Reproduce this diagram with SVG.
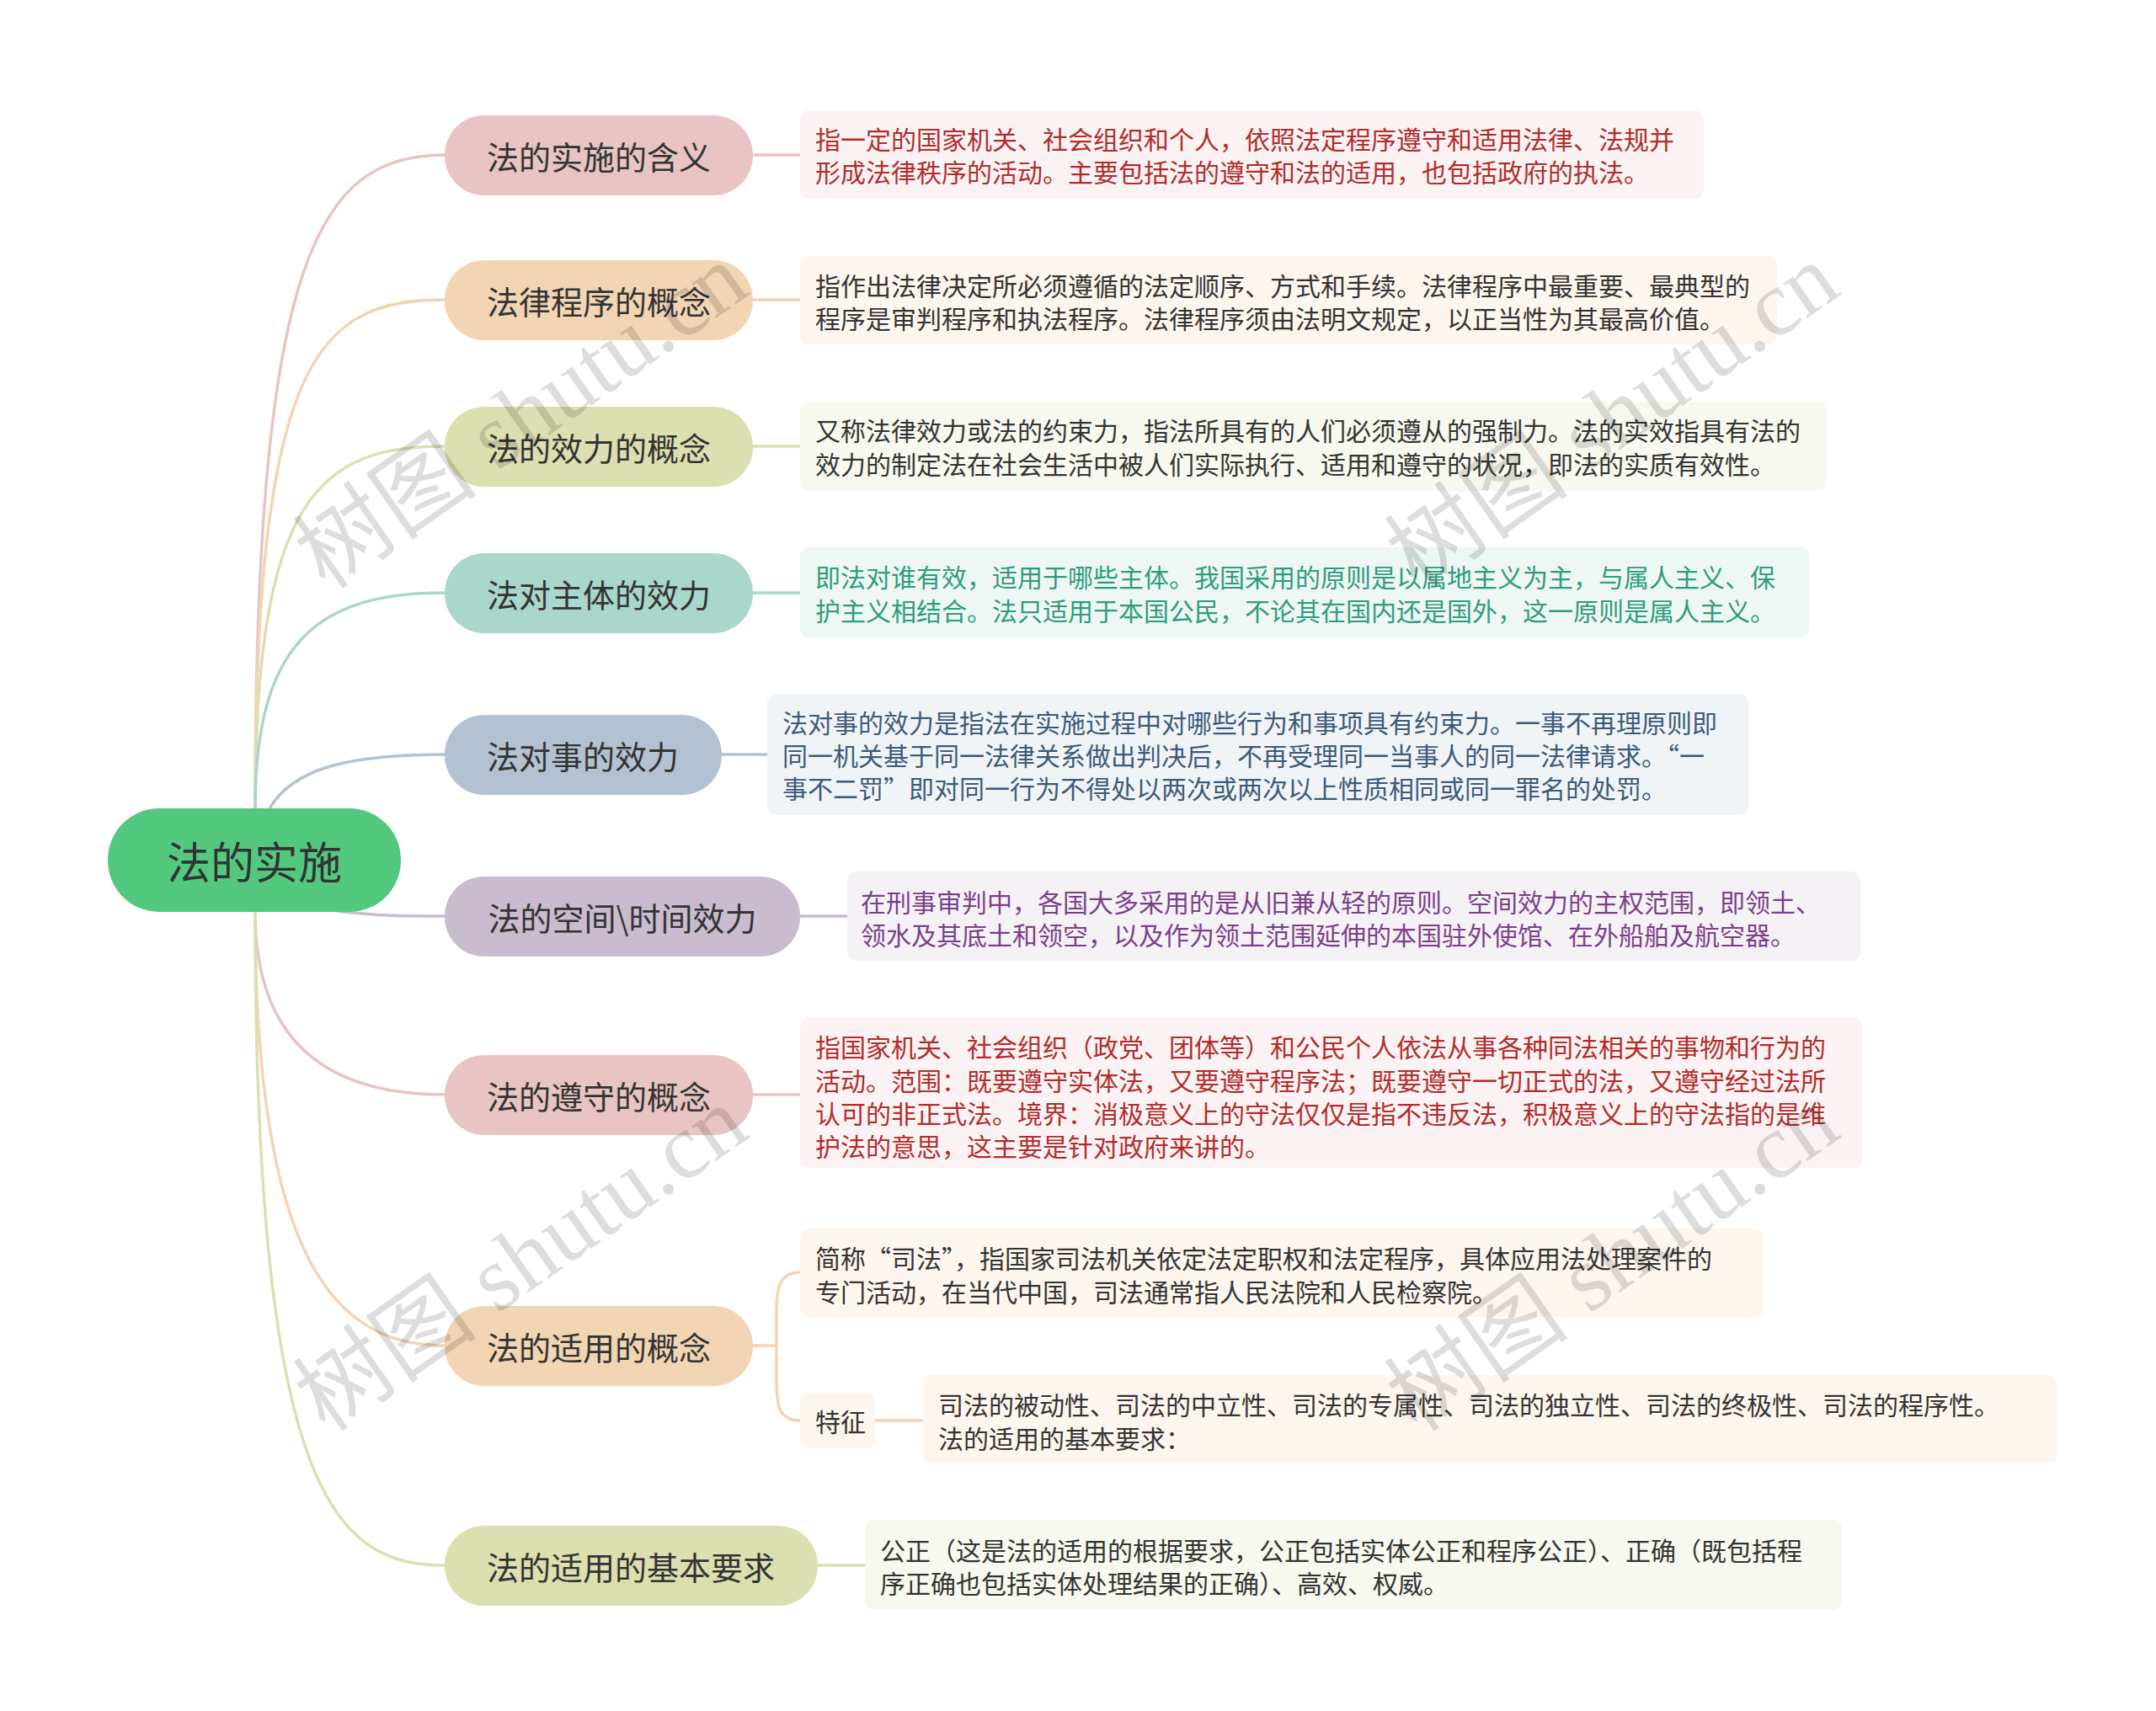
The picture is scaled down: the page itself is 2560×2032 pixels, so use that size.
<svg xmlns="http://www.w3.org/2000/svg" width="2560" height="2032" viewBox="0 0 2560 2032">
<style>
.b{font-family:"Noto Sans CJK SC","Noto Sans",sans-serif;font-size:38px;fill:#333;dominant-baseline:central}
.t{font-family:"Noto Sans CJK SC","Noto Sans",sans-serif;font-size:30px;dominant-baseline:central}
.c{fill:none;stroke-width:3.5}
.wm{font-family:"Liberation Serif","Noto Sans CJK SC",serif;font-size:110px;fill:#000;opacity:0.13}
</style>
<rect width="2560" height="2032" fill="#fff"/>
<g id="connectors">
<path class="c" stroke="#E8C4C4" d="M303 960 C303 300,380 184,528 184"/>
<path class="c" stroke="#F2D5B3" d="M303 960 C303 420,380 356,528 356"/>
<path class="c" stroke="#DCDFB0" d="M303 960 C303 590,380 530,528 530"/>
<path class="c" stroke="#A9D7CB" d="M303 960 C303 760,380 704,528 704"/>
<path class="c" stroke="#B3C2D3" d="M320 960 C350 910,420 896,528 896"/>
<path class="c" stroke="#C9BCCE" d="M400 1082 C450 1088,480 1088,528 1088"/>
<path class="c" stroke="#E8C4C4" d="M303 1083 C303 1230,380 1300,528 1300"/>
<path class="c" stroke="#F2D5B3" d="M303 1083 C303 1500,400 1598,528 1598"/>
<path class="c" stroke="#DCDFB0" d="M303 1083 C303 1780,400 1859,528 1859"/>
<path class="c" stroke="#E8C4C4" d="M894 184 H950"/>
<path class="c" stroke="#F2D5B3" d="M894 356 H950"/>
<path class="c" stroke="#DCDFB0" d="M894 530 H950"/>
<path class="c" stroke="#A9D7CB" d="M894 704 H950"/>
<path class="c" stroke="#B3C2D3" d="M857 896 H911"/>
<path class="c" stroke="#C9BCCE" d="M950 1088 H1006"/>
<path class="c" stroke="#E8C4C4" d="M894 1300 H950"/>
<path class="c" stroke="#F2D5B3" d="M894 1598 H922 M950 1511 C925 1511,922 1530,922 1560 V1640 C922 1670,925 1687,950 1687"/>
<path class="c" stroke="#F2D5B3" d="M1039 1687 H1096"/>
<path class="c" stroke="#DCDFB0" d="M971 1859 H1027"/>
</g>
<g id="root"><rect x="128" y="960" width="348" height="123" rx="61" fill="#52C97F"/><text x="302" y="1021" text-anchor="middle" class="b" style="font-size:52px">法的实施</text></g>
<g id="n1"><rect x="528" y="137" width="366" height="95" rx="47" fill="#E8C4C4"/><text x="711" y="184" text-anchor="middle" class="b">法的实施的含义</text></g>
<g id="n2"><rect x="528" y="309" width="366" height="95" rx="47" fill="#F2D5B3"/><text x="711" y="356" text-anchor="middle" class="b">法律程序的概念</text></g>
<g id="n3"><rect x="528" y="483" width="366" height="95" rx="47" fill="#DCDFB0"/><text x="711" y="530" text-anchor="middle" class="b">法的效力的概念</text></g>
<g id="n4"><rect x="528" y="657" width="366" height="95" rx="47" fill="#A9D7CB"/><text x="711" y="704" text-anchor="middle" class="b">法对主体的效力</text></g>
<g id="n5"><rect x="528" y="849" width="329" height="95" rx="47" fill="#B3C2D3"/><text x="692" y="896" text-anchor="middle" class="b">法对事的效力</text></g>
<g id="n6"><rect x="528" y="1041" width="422" height="95" rx="47" fill="#C9BCCE"/><text x="739" y="1088" text-anchor="middle" class="b">法的空间\时间效力</text></g>
<g id="n7"><rect x="528" y="1253" width="366" height="95" rx="47" fill="#E8C4C4"/><text x="711" y="1300" text-anchor="middle" class="b">法的遵守的概念</text></g>
<g id="n8"><rect x="528" y="1551" width="366" height="95" rx="47" fill="#F2D5B3"/><text x="711" y="1598" text-anchor="middle" class="b">法的适用的概念</text></g>
<g id="n9"><rect x="528" y="1812" width="443" height="95" rx="47" fill="#DCDFB0"/><text x="749" y="1859" text-anchor="middle" class="b">法的适用的基本要求</text></g>
<g id="d1"><rect x="950" y="131" width="1073" height="105" rx="10" fill="#FBF3F3"/><text class="t" fill="#B22C2C"><tspan x="968" y="164">指一定的国家机关、社会组织和个人，依照法定程序遵守和适用法律、法规并</tspan><tspan x="968" y="203">形成法律秩序的活动。主要包括法的遵守和法的适用，也包括政府的执法。</tspan></text></g>
<g id="d2"><rect x="950" y="304" width="1160" height="105" rx="10" fill="#FDF6EF"/><text class="t" fill="#333"><tspan x="968" y="338">指作出法律决定所必须遵循的法定顺序、方式和手续。法律程序中最重要、最典型的</tspan><tspan x="968" y="377">程序是审判程序和执法程序。法律程序须由法明文规定，以正当性为其最高价值。</tspan></text></g>
<g id="d3"><rect x="950" y="478" width="1219" height="105" rx="10" fill="#F7F8EF"/><text class="t" fill="#333"><tspan x="968" y="510">又称法律效力或法的约束力，指法所具有的人们必须遵从的强制力。法的实效指具有法的</tspan><tspan x="968" y="550">效力的制定法在社会生活中被人们实际执行、适用和遵守的状况，即法的实质有效性。</tspan></text></g>
<g id="d4"><rect x="950" y="650" width="1198" height="107" rx="10" fill="#EEF7F4"/><text class="t" fill="#2E9C7E"><tspan x="968" y="684">即法对谁有效，适用于哪些主体。我国采用的原则是以属地主义为主，与属人主义、保</tspan><tspan x="968" y="724">护主义相结合。法只适用于本国公民，不论其在国内还是国外，这一原则是属人主义。</tspan></text></g>
<g id="d5"><rect x="911" y="824" width="1165" height="144" rx="10" fill="#F1F4F7"/><text class="t" fill="#3C5A7A"><tspan x="929" y="857">法对事的效力是指法在实施过程中对哪些行为和事项具有约束力。一事不再理原则即</tspan><tspan x="929" y="896">同一机关基于同一法律关系做出判决后，不再受理同一当事人的同一法律请求。“一</tspan><tspan x="929" y="935">事不二罚”即对同一行为不得处以两次或两次以上性质相同或同一罪名的处罚。</tspan></text></g>
<g id="d6"><rect x="1006" y="1035" width="1203" height="106" rx="10" fill="#F5F2F6"/><text class="t" fill="#7B3F8A"><tspan x="1022" y="1070">在刑事审判中，各国大多采用的是从旧兼从轻的原则。空间效力的主权范围，即领土、</tspan><tspan x="1022" y="1109">领水及其底土和领空，以及作为领土范围延伸的本国驻外使馆、在外船舶及航空器。</tspan></text></g>
<g id="d7"><rect x="950" y="1209" width="1262" height="178" rx="10" fill="#FBF3F3"/><text class="t" fill="#B22C2C"><tspan x="968" y="1242">指国家机关、社会组织（政党、团体等）和公民个人依法从事各种同法相关的事物和行为的</tspan><tspan x="968" y="1282">活动。范围：既要遵守实体法，又要遵守程序法；既要遵守一切正式的法，又遵守经过法所</tspan><tspan x="968" y="1321">认可的非正式法。境界：消极意义上的守法仅仅是指不违反法，积极意义上的守法指的是维</tspan><tspan x="968" y="1360">护法的意思，这主要是针对政府来讲的。</tspan></text></g>
<g id="d8a"><rect x="950" y="1459" width="1144" height="105" rx="10" fill="#FDF6EF"/><text class="t" fill="#333"><tspan x="968" y="1493">简称“司法”，指国家司法机关依定法定职权和法定程序，具体应用法处理案件的</tspan><tspan x="968" y="1533">专门活动，在当代中国，司法通常指人民法院和人民检察院。</tspan></text></g>
<g id="d8b"><rect x="950" y="1654" width="89" height="66" rx="10" fill="#FDF6EF"/><text class="t" fill="#333" x="968" y="1687">特征</text></g>
<g id="d8c"><rect x="1096" y="1633" width="1346" height="105" rx="10" fill="#FDF6EF"/><text class="t" fill="#333"><tspan x="1114" y="1667">司法的被动性、司法的中立性、司法的专属性、司法的独立性、司法的终极性、司法的程序性。</tspan><tspan x="1114" y="1707">法的适用的基本要求：</tspan></text></g>
<g id="d9"><rect x="1027" y="1805" width="1160" height="107" rx="10" fill="#F7F8EF"/><text class="t" fill="#333"><tspan x="1045" y="1840">公正（这是法的适用的根据要求，公正包括实体公正和程序公正）、正确（既包括程</tspan><tspan x="1045" y="1879">序正确也包括实体处理结果的正确）、高效、权威。</tspan></text></g>
<g id="watermarks">
<text class="wm" transform="translate(640 525) rotate(-35)" text-anchor="middle">树图 shutu.cn</text>
<text class="wm" transform="translate(1936 525) rotate(-35)" text-anchor="middle">树图 shutu.cn</text>
<text class="wm" transform="translate(640 1526) rotate(-35)" text-anchor="middle">树图 shutu.cn</text>
<text class="wm" transform="translate(1936 1526) rotate(-35)" text-anchor="middle">树图 shutu.cn</text>
</g>
</svg>
